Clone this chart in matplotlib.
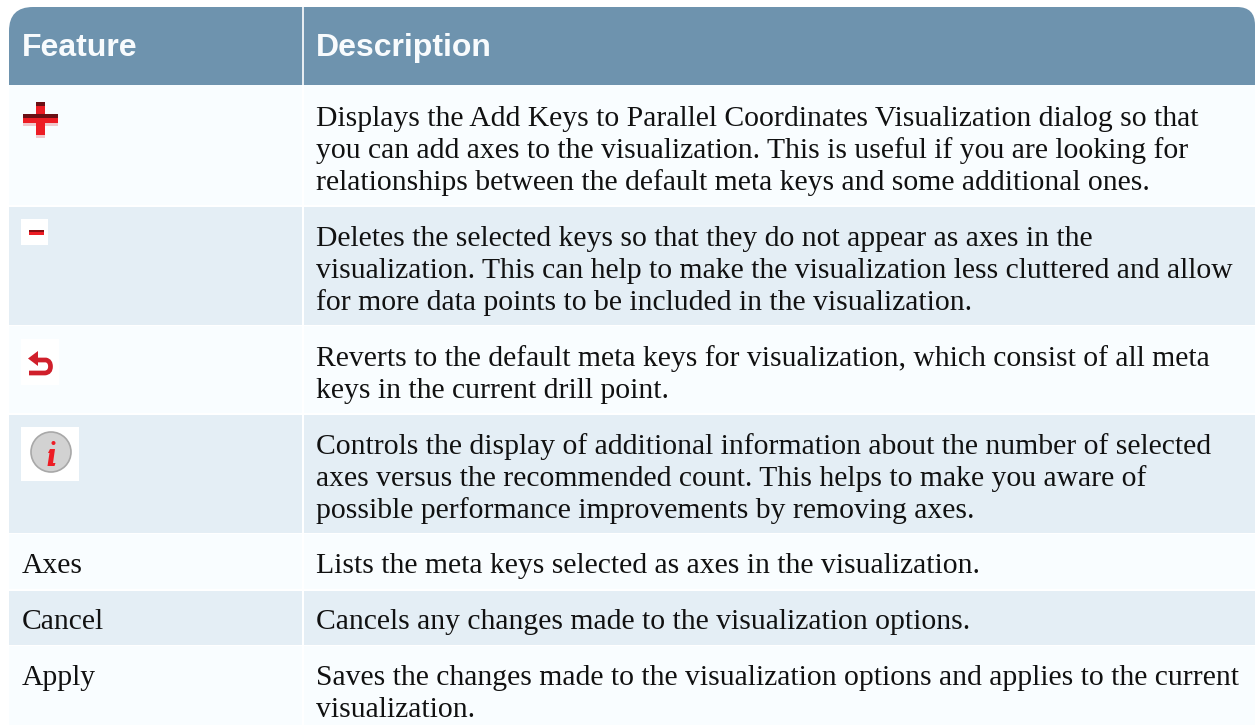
import matplotlib
matplotlib.use("Agg")
import matplotlib.pyplot as plt
from matplotlib.patches import Rectangle, PathPatch, Circle, Polygon
from matplotlib.path import Path

W, H = 1255, 726
header = ["Feature", "Description"]
features = ["", "", "", "", "Axes", "Cancel", "Apply"]
descriptions = [
    ["Displays the Add Keys to Parallel Coordinates Visualization dialog so that",
     "you can add axes to the visualization. This is useful if you are looking for",
     "relationships between the default meta keys and some additional ones."],
    ["Deletes the selected keys so that they do not appear as axes in the",
     "visualization. This can help to make the visualization less cluttered and allow",
     "for more data points to be included in the visualization."],
    ["Reverts to the default meta keys for visualization, which consist of all meta",
     "keys in the current drill point."],
    ["Controls the display of additional information about the number of selected",
     "axes versus the recommended count. This helps to make you aware of",
     "possible performance improvements by removing axes."],
    ["Lists the meta keys selected as axes in the visualization."],
    ["Cancels any changes made to the visualization options."],
    ["Saves the changes made to the visualization options and applies to the current",
     "visualization."],
]
row_tops = [85, 207, 326, 415, 534, 591, 646]
row_bottoms = [205, 325, 413, 533, 589, 645, 725]
baselines = [125.5, 245.5, 366, 454, 573, 629, 685]
LINE = 32
LEFT, DIV, RIGHT, HTOP = 9, 302.5, 1255, 7
HEADER_C, ODD, EVEN = "#6e93ae", "#f9fdff", "#e4eef5"
RED = "#ed1c24"
BODY_SIZE = 21.35
HEAD_SIZE = 23

fig = plt.figure(figsize=(W / 100, H / 100), dpi=100, facecolor="white")
ax = fig.add_axes([0, 0, 1, 1])
ax.set_xlim(0, W)
ax.set_ylim(H, 0)
ax.axis("off")

# header with rounded top corners
r, r2 = 24, 18
verts = [(LEFT, 85), (LEFT, HTOP + r), (LEFT, HTOP), (LEFT + r, HTOP), (RIGHT - r2, HTOP),
         (RIGHT, HTOP), (RIGHT, HTOP + r2), (RIGHT, 85), (LEFT, 85)]
codes = [Path.MOVETO, Path.LINETO, Path.CURVE3, Path.CURVE3, Path.LINETO,
         Path.CURVE3, Path.CURVE3, Path.LINETO, Path.CLOSEPOLY]
ax.add_patch(PathPatch(Path(verts, codes), fc=HEADER_C, ec="none"))
ax.plot([DIV, DIV], [HTOP, 85], color="white", lw=1.2, solid_capstyle="butt")
ax.text(22, 56, header[0], family="Liberation Sans", weight="bold", color="#f8fbfd", fontsize=HEAD_SIZE, va="baseline")
ax.text(316, 56, header[1], family="Liberation Sans", weight="bold", color="#f8fbfd", fontsize=HEAD_SIZE, va="baseline")

for i, (t, b) in enumerate(zip(row_tops, row_bottoms)):
    c = ODD if i % 2 == 0 else EVEN
    ax.add_patch(Rectangle((LEFT, t), DIV - 1 - LEFT, b - t, fc=c, ec="none"))
    ax.add_patch(Rectangle((DIV + 1, t), RIGHT - DIV - 1, b - t, fc=c, ec="none"))
    if features[i]:
        ax.text(22, baselines[i], features[i], family="Liberation Serif", fontsize=BODY_SIZE, color="#111111", va="baseline")
    for j, line in enumerate(descriptions[i]):
        ax.text(316, baselines[i] + j * LINE, line, family="Liberation Serif", fontsize=BODY_SIZE, color="#111111", va="baseline")

# plus icon
ax.add_patch(Rectangle((36, 102), 9, 36, fc=RED, ec="none"))
ax.add_patch(Rectangle((23, 114), 35, 11, fc=RED, ec="none"))
ax.add_patch(Rectangle((36, 102), 9, 4, fc="#6b0f14", ec="none"))
ax.add_patch(Rectangle((23, 114), 35, 4, fc="#6b0f14", ec="none"))
ax.add_patch(Rectangle((23, 123), 13, 3, fc="#f0c8cc", ec="none"))
ax.add_patch(Rectangle((45, 123), 13, 3, fc="#f0c8cc", ec="none"))
ax.add_patch(Rectangle((36, 135), 9, 3, fc="#f0c8cc", ec="none"))

# minus icon
ax.add_patch(Rectangle((21, 219), 27, 26, fc="white", ec="none"))
ax.add_patch(Rectangle((29, 230), 15, 5, fc=RED, ec="none"))
ax.add_patch(Rectangle((29, 230), 15, 2, fc="#8a0d12", ec="none"))

# revert icon
ax.add_patch(Rectangle((21, 339), 38, 46, fc="white", ec="none"))
rv = [(37, 360), (46, 360), (50.5, 361), (50.5, 366.5), (50.5, 372.5), (45, 373), (29, 373)]
rc = [Path.MOVETO, Path.LINETO, Path.CURVE3, Path.CURVE3, Path.CURVE3, Path.CURVE3, Path.LINETO]
ax.add_patch(PathPatch(Path(rv, rc), fc="none", ec="#d01f2b", lw=3.4, capstyle="butt"))
ax.add_patch(Polygon([(38, 351), (28, 358.5), (38, 366)], fc="#d01f2b", ec="none"))

# info icon
ax.add_patch(Rectangle((21, 427), 58, 54, fc="white", ec="none"))
ax.add_patch(Circle((51, 452), 20, fc="#d2d2d2", ec="#a8a8a8", lw=1.2))
ax.add_patch(Circle((53.5, 443), 2.0, fc=RED, ec="none"))
ax.add_patch(Polygon([(50, 449), (55, 449), (53, 463), (55.5, 463), (54.5, 466), (47.5, 466), (49.5, 453), (48, 453)],
                     fc=RED, ec="none"))

fig.savefig("out.png", dpi=100, facecolor="white")
